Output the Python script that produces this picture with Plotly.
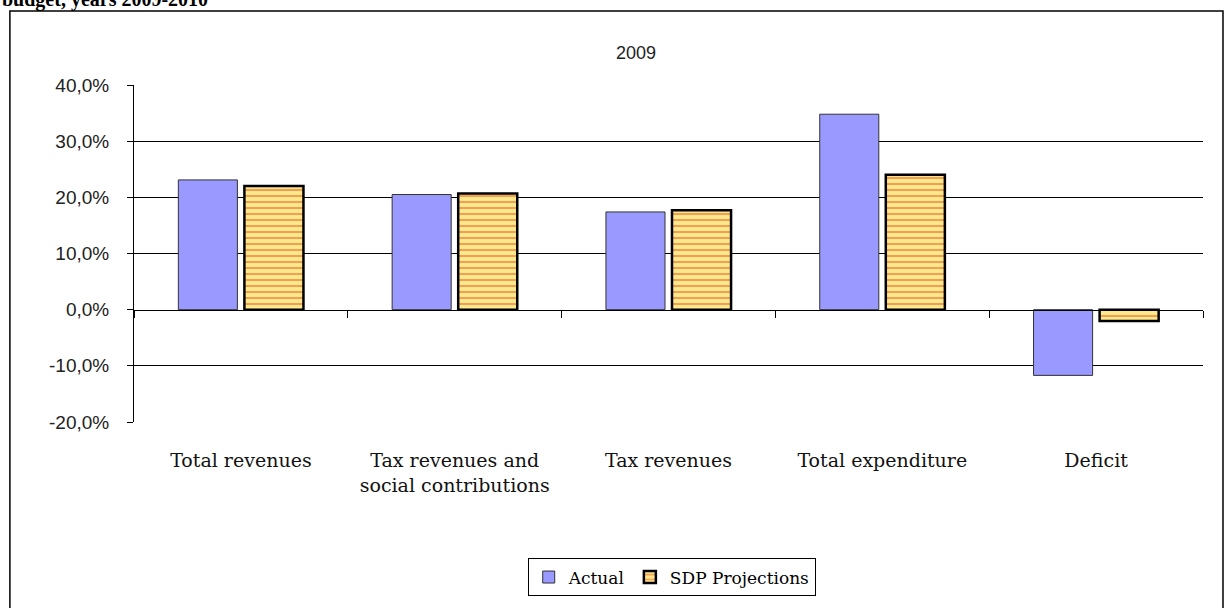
import plotly.graph_objects as go

# Budget categories and growth rates (%), year 2009
categories = [
    "Total revenues",
    "Tax revenues and<br>social contributions",
    "Tax revenues",
    "Total expenditure",
    "Deficit",
]
actual = [23.1, 20.5, 17.4, 34.8, -11.7]
sdp_projections = [22.0, 20.7, 17.7, 24.0, -2.0]

y_ticks = [-20, -10, 0, 10, 20, 30, 40]
y_tick_text = [f"{v:.1f}%".replace(".", ",") for v in y_ticks]
grid_values = [-10, 10, 20, 30]

Y_MIN, Y_MAX = -20, 40
zero_pos = (0 - Y_MIN) / (Y_MAX - Y_MIN)

fig = go.Figure()

fig.add_trace(go.Bar(
    name="Actual",
    x=categories,
    y=actual,
    marker=dict(color="#9999FF", line=dict(color="#333333", width=1)),
))

fig.add_trace(go.Bar(
    name="SDP Projections",
    x=categories,
    y=sdp_projections,
    marker=dict(
        color="#FFE98A",
        line=dict(color="#000000", width=2.5),
        pattern=dict(shape="-", fgcolor="#E0552A", bgcolor="#FFE98A",
                     size=6, solidity=0.35),
    ),
))

fig.update_layout(
    width=1225,
    height=608,
    margin=dict(l=134, r=22, t=85, b=181),
    paper_bgcolor="white",
    plot_bgcolor="white",
    barmode="group",
    bargap=0.382,
    bargroupgap=0.106,
    showlegend=True,
    legend=dict(
        orientation="h",
        x=0.503, xanchor="center",
        y=-0.405, yanchor="top",
        bordercolor="#000000",
        borderwidth=1,
        bgcolor="white",
        font=dict(family="DejaVu Serif, serif", size=17, color="#000000"),
        itemwidth=30,
        traceorder="normal",
    ),
    xaxis=dict(
        type="category",
        anchor="free",
        position=zero_pos,
        showline=True,
        linecolor="#000000",
        linewidth=1,
        ticks="outside",
        tickson="boundaries",
        ticklen=7,
        tickcolor="#000000",
        showgrid=False,
        zeroline=False,
        ticklabelstandoff=134,
        tickfont=dict(family="DejaVu Serif", size=19, color="#111111"),
    ),
    yaxis=dict(
        range=[Y_MIN, Y_MAX],
        tickvals=y_ticks,
        ticktext=y_tick_text,
        showline=True,
        linecolor="#000000",
        linewidth=1,
        ticks="outside",
        ticklen=6,
        tickcolor="#000000",
        ticklabelstandoff=14,
        showgrid=False,
        zeroline=False,
        tickfont=dict(family="Liberation Sans", size=19, color="#222222"),
        minor=dict(tickvals=grid_values, showgrid=True,
                   gridcolor="#000000", gridwidth=1, ticks=""),
    ),
    annotations=[
        dict(text="2009", xref="paper", yref="paper", x=0.47, y=1.095,
             xanchor="center", yanchor="middle", showarrow=False,
             font=dict(family="Liberation Sans Narrow, Liberation Sans",
                       size=18, color="#222222")),
        dict(text="<b>budget, years 2009-2010</b>", xref="paper", yref="paper",
             x=-0.125, y=1.254, xanchor="left", yanchor="middle",
             showarrow=False,
             font=dict(family="Liberation Serif", size=20, color="#000000")),
    ],
    shapes=[
        dict(type="rect", xref="paper", yref="paper",
             x0=-0.1161, x1=1.0187, y0=-0.6, y1=1.2193,
             line=dict(color="#000000", width=1.5), fillcolor="rgba(0,0,0,0)",
             layer="below"),
    ],
)

fig.write_html("out.html")
